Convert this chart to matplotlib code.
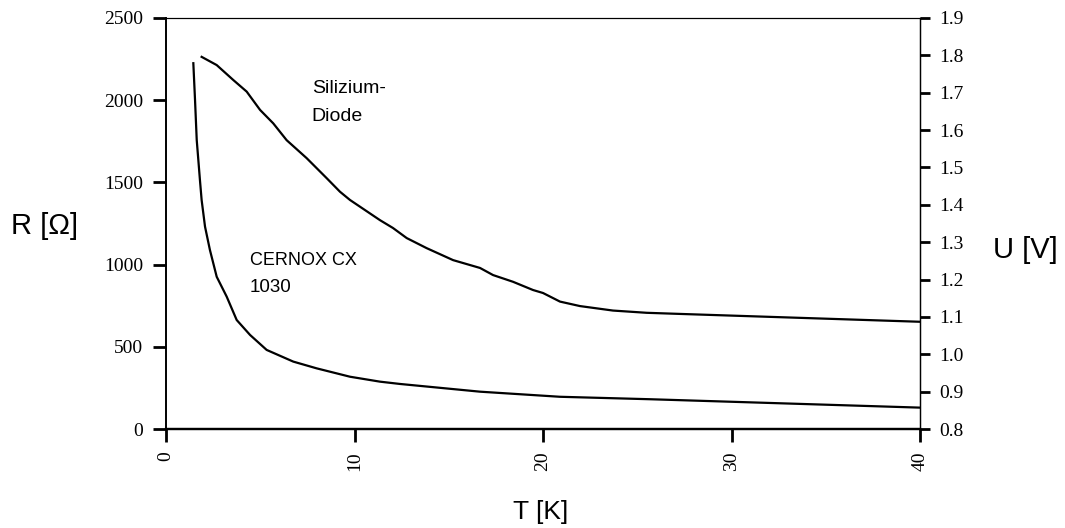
import matplotlib
matplotlib.use('Agg')
import matplotlib.pyplot as plt
import numpy as np

# CERNOX CX-1030 resistance R [Ohm] vs temperature T [K]
cernox_T = [1.45, 1.54, 1.63, 1.80, 1.89, 2.07, 2.33, 2.69, 3.22, 3.75, 4.46, 5.34,
            6.75, 7.99, 9.76, 11.35, 12.41, 16.66, 20.9, 25.7, 40.0]
cernox_R = [2225, 2001, 1758, 1515, 1393, 1231, 1089, 926, 805, 663, 572, 481,
            410, 369, 318, 288, 274, 227, 196, 181, 130]

# silicon diode voltage U [V] vs temperature T [K]
diode_T = [1.89, 2.69, 3.57, 4.28, 4.99, 5.69, 6.40, 7.46, 8.53, 9.23, 9.76, 11.35,
           12.04, 12.77, 13.83, 15.23, 16.66, 17.35, 18.41, 19.47, 20.0, 20.9, 21.96,
           23.71, 25.5, 27.27, 40.0]
diode_U = [1.796, 1.774, 1.734, 1.703, 1.654, 1.618, 1.573, 1.525, 1.471, 1.435, 1.413,
           1.359, 1.338, 1.311, 1.284, 1.252, 1.231, 1.212, 1.194, 1.172, 1.164, 1.141,
           1.129, 1.117, 1.111, 1.108, 1.087]

x_ticks = [0, 10, 20, 30, 40]
r_ticks = [0, 500, 1000, 1500, 2000, 2500]
u_ticks = [0.8, 0.9, 1.0, 1.1, 1.2, 1.3, 1.4, 1.5, 1.6, 1.7, 1.8, 1.9]

serif = 'Liberation Serif'
sans = 'Liberation Sans'

fig = plt.figure(figsize=(10.65, 5.28), dpi=100)
ax = fig.add_axes([166 / 1065, 99 / 528, 754 / 1065, 411 / 528])
ax2 = ax.twinx()

ax.plot(cernox_T, cernox_R, color='black', lw=1.6, solid_joinstyle='round')
ax2.plot(diode_T, diode_U, color='black', lw=1.6, solid_joinstyle='round')

ax.set_xlim(0, 40)
ax.set_ylim(0, 2500)
ax2.set_ylim(0.8, 1.9)

ax.set_xticks(x_ticks)
ax.set_xticklabels([str(t) for t in x_ticks], rotation=90, fontfamily=serif, fontsize=14)
ax.set_yticks(r_ticks)
ax.set_yticklabels([str(t) for t in r_ticks], fontfamily=serif, fontsize=14)
ax2.set_yticks(u_ticks)
ax2.set_yticklabels([f'{u:.1f}' for u in u_ticks], fontfamily=serif, fontsize=14)

ax.tick_params(axis='x', direction='out', length=9.5, width=2, pad=6.5)
ax.tick_params(axis='y', direction='out', length=9.5, width=2, pad=7)
ax2.tick_params(axis='y', direction='out', length=7.5, width=2, pad=6)

for a in (ax, ax2):
    a.spines['top'].set_linewidth(0.8)
    a.spines['right'].set_linewidth(0.9)
    a.spines['left'].set_linewidth(1.2)
    a.spines['bottom'].set_linewidth(1.6)

# curve labels
ax.text(7.73, 2044, 'Silizium-', fontfamily=sans, fontsize=14, va='baseline')
ax.text(7.73, 1874, 'Diode', fontfamily=sans, fontsize=14, va='baseline')
ax.text(4.46, 998, 'CERNOX CX', fontfamily=sans, fontsize=13, va='baseline')
ax.text(4.46, 835, '1030', fontfamily=sans, fontsize=13.5, va='baseline')

# axis titles
fig.text(45 / 1065, 1 - 226 / 528, 'R [Ω]', fontfamily=sans, fontsize=21,
         ha='center', va='center')
fig.text(1025 / 1065, 1 - 250 / 528, 'U [V]', fontfamily=sans, fontsize=21,
         ha='center', va='center')
fig.text(541 / 1065, 1 - 512 / 528, 'T [K]', fontfamily=sans, fontsize=19,
         ha='center', va='center')

fig.savefig('out.png', dpi=100, facecolor='white')
